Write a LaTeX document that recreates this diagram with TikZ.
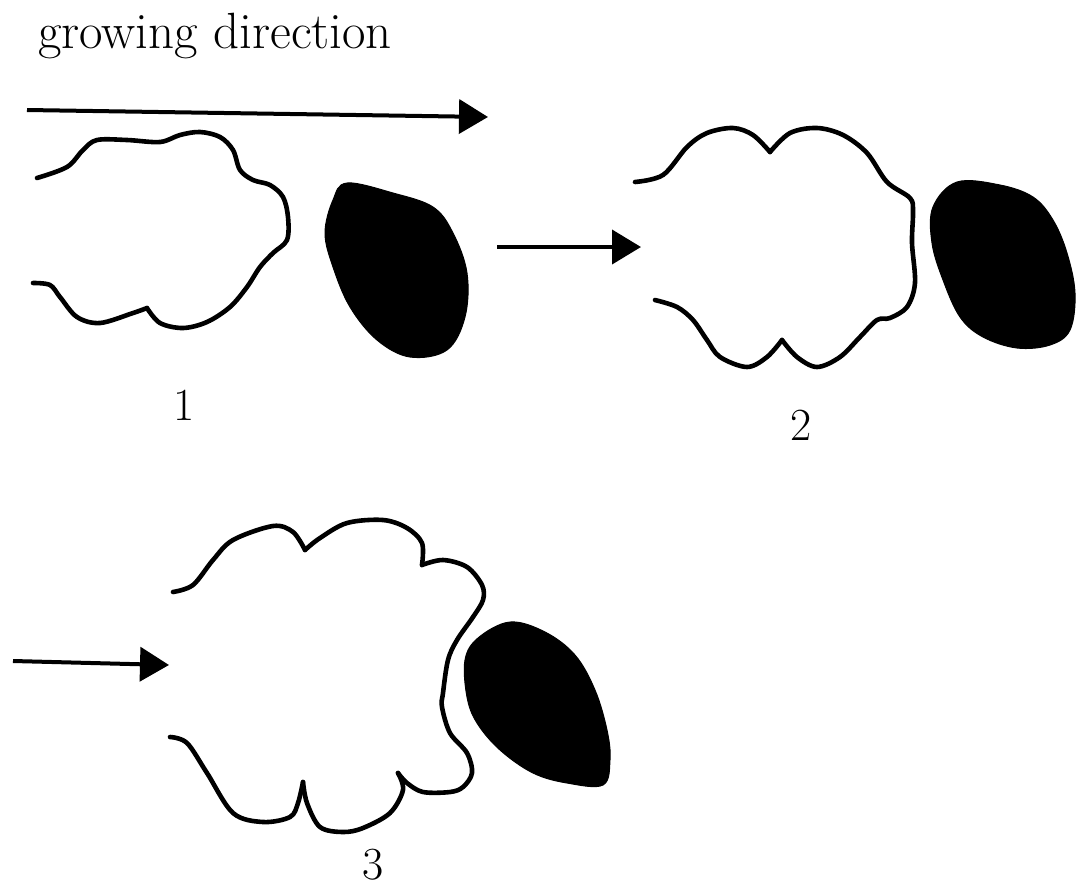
\documentclass[tikz,border=0pt]{standalone}
\usetikzlibrary{arrows.meta}
\begin{document}
\begin{tikzpicture}[x=1pt,y=-1pt,
  outline/.style={line width=4.6pt,line cap=round,line join=round},
  cell/.style={fill=black,draw=black,line width=1pt},
  growarrow/.style={line width=4pt,-{Triangle[length=29pt,width=34pt]}},
  label/.style={font=\fontsize{46}{52}\selectfont,inner sep=0pt}]
\useasboundingbox (0,0) rectangle (1077,887);

% caption and stage numbers
\node[label,font=\fontsize{51}{56}\selectfont,anchor=base west] (title) at (38,48) {growing direction};
\node[label] (n1) at (184,405) {1};
\node[label] (n2) at (801,425) {2};
\node[label] (n3) at (373,865) {3};

% arrows
\coordinate (a0s) at (27,110);  \coordinate (a0e) at (488,117);
\coordinate (a1s) at (497,247); \coordinate (a1e) at (641,247);
\coordinate (a2s) at (13,661);  \coordinate (a2e) at (169,665);
\draw[growarrow] (a0s) -- (a0e);
\draw[growarrow] (a1s) -- (a1e);
\draw[growarrow] (a2s) -- (a2e);

% stage 1
\draw[outline] plot[smooth,tension=0.55] coordinates {(37,178) (67,167) (83,150) (97,140) (127,140) (160,142) (180,135) (200,132) (220,137) (233,150) (240,170) (253,180) (270,185) (283,197) (288,217) (287,240) (273,253) (260,267) (247,287) (230,307) (207,322) (183,328) (160,323) (147,308)};
\draw[outline] plot[smooth,tension=0.55] coordinates {(147,308) (133,313) (100,323) (77,317) (60,297) (50,285) (33,283)};
\fill[cell] plot[smooth cycle,tension=0.6] coordinates {(347,183) (393,193) (433,207) (453,233) (467,273) (465,317) (447,350) (410,357) (377,340) (350,307) (333,267) (325,233) (333,200)};

% stage 2
\draw[outline] plot[smooth,tension=0.55] coordinates {(635,182) (663,175) (687,147) (707,133) (733,128) (753,135) (770,152)};
\draw[outline] plot[smooth,tension=0.55] coordinates {(770,152) (790,133) (817,128) (843,135) (867,153) (887,182) (910,198) (913,212) (912,243) (915,283) (907,307) (890,318) (877,320) (860,337) (840,357) (817,367) (797,357) (782,340)};
\draw[outline] plot[smooth,tension=0.55] coordinates {(782,340) (767,357) (747,367) (720,357) (707,340) (693,320) (677,307) (655,300)};
\fill[cell] plot[smooth cycle,tension=0.6] coordinates {(957,182) (1000,185) (1033,197) (1053,220) (1067,253) (1075,293) (1070,330) (1050,345) (1017,348) (983,337) (960,317) (943,280) (932,243) (933,207)};

% stage 3
\draw[outline] plot[smooth,tension=0.55] coordinates {(173,592) (193,585) (213,560) (233,540) (273,526) (293,532) (305,550)};
\draw[outline] plot[smooth,tension=0.55] coordinates {(305,550) (320,538) (347,523) (383,520) (407,528) (422,543) (422,565)};
\draw[outline] plot[smooth,tension=0.55] coordinates {(422,565) (443,560) (467,567) (482,585) (483,600) (473,617) (457,640) (448,660) (443,693) (442,707) (450,733) (467,753) (472,773) (463,787) (450,792) (423,792) (407,783) (398,773)};
\draw[outline] plot[smooth,tension=0.55] coordinates {(398,773) (403,790) (390,813) (363,828) (343,832) (320,827) (307,803) (303,782)};
\draw[outline] plot[smooth,tension=0.55] coordinates {(303,782) (298,803) (290,817) (263,822) (233,813) (207,773) (187,743) (170,737)};
\fill[cell] plot[smooth cycle,tension=0.6] coordinates {(510,622) (545,632) (575,655) (595,690) (607,730) (610,760) (603,785) (567,783) (533,773) (500,750) (477,723) (467,697) (465,660) (478,638)};
\end{tikzpicture}
\end{document}
